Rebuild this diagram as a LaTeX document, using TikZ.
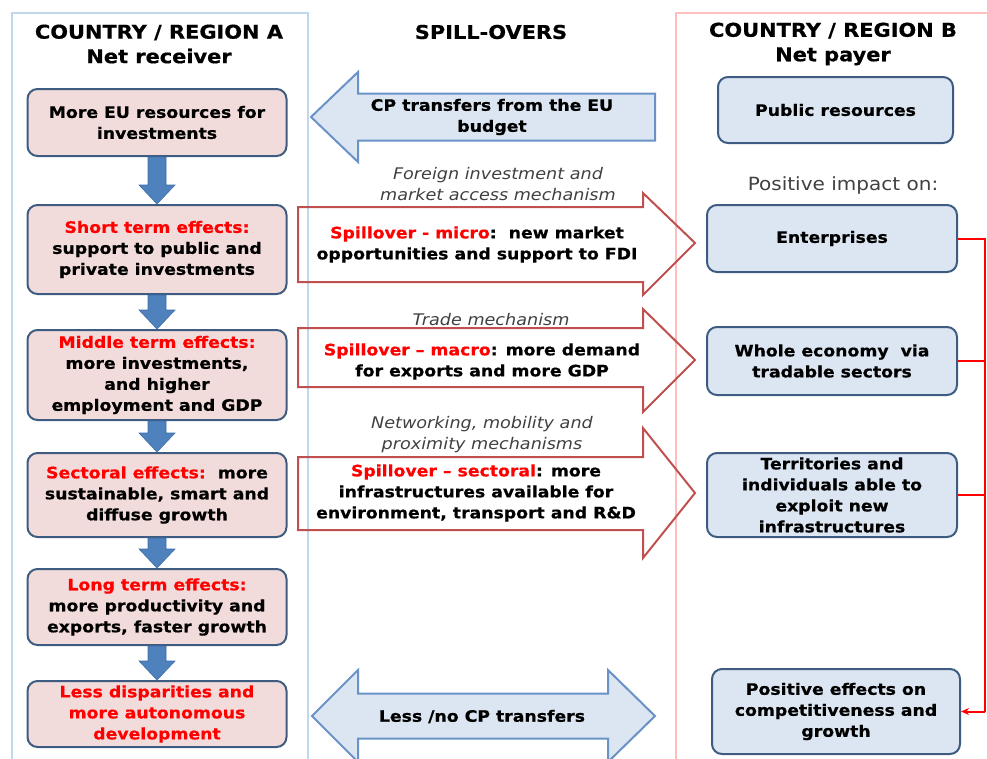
\documentclass[tikz,border=0pt]{standalone}
\usepackage{fontspec}
\setmainfont{DejaVu Sans}[FakeStretch=1.1, BoldFeatures={FakeBold=0.6}]
\usetikzlibrary{calc,arrows.meta}
\definecolor{pinkfill}{HTML}{F2DCDB}
\definecolor{bluefill}{HTML}{DCE6F2}
\definecolor{boxline}{HTML}{3E5C82}
\definecolor{arrowblue}{HTML}{4F81BD}
\definecolor{arrowblueline}{HTML}{3D6DA6}
\definecolor{cpline}{HTML}{6A92C6}
\definecolor{frameblue}{HTML}{BFD8EE}
\definecolor{framepink}{HTML}{FFBFBF}
\definecolor{spillred}{HTML}{C0504D}
\definecolor{txtred}{HTML}{FF0000}
\definecolor{mechgray}{HTML}{404040}
\newcommand{\rt}[1]{\textcolor{txtred}{#1}}
\begin{document}
\begin{tikzpicture}[x=1pt,y=-1pt,
  bodyfont/.style={font=\fontsize{15.7}{21}\selectfont\bfseries},
  headfont/.style={font=\fontsize{19}{24.5}\selectfont\bfseries},
  mechfont/.style={font=\fontsize{16}{21.5}\selectfont\itshape, text=mechgray},
  leftbox/.style={draw=boxline, line width=2pt, fill=pinkfill, rounded corners=10pt,
     minimum width=259pt, align=center, bodyfont, inner sep=0pt},
  rightbox/.style={draw=boxline, line width=2pt, fill=bluefill, rounded corners=10pt,
     align=center, bodyfont, inner sep=0pt},
  plain/.style={align=center, inner sep=0pt},
  spill/.style={draw=spillred, line width=2pt, line join=miter},
  cparrow/.style={draw=cpline, line width=2pt, fill=bluefill, line join=miter},
  downarr/.style={fill=arrowblue, draw=arrowblueline, line width=0.6pt},
  conn/.style={draw=txtred, line width=2pt},
]
\useasboundingbox (0,0) rectangle (987,758);
% frames
\draw[frameblue, line width=1.5pt] (12,770) -- (12,13) -- (308,13) -- (308,770);
\draw[framepink, line width=1.5pt] (676,770) -- (676,13) -- (1000,13);

% headers
\node[plain, headfont] (hA) at (159,44) {COUNTRY / REGION A\\Net receiver};
\node[plain, headfont] (hS) at (491,32) {SPILL-OVERS};
\node[plain, headfont] (hB) at (833,44) {COUNTRY / REGION B\\Net payer};

% left column
\node[leftbox, minimum height=67pt] (L1) at (157,122.5) {More EU resources for\\investments};
\node[leftbox, minimum height=89pt] (L2) at (157,249.5) {\rt{Short term effects:}\\support to public and\\private investments};
\node[leftbox, minimum height=90pt] (L3) at (157,375) {\rt{Middle term effects:}\\more investments,\\and higher\\employment and GDP};
\node[leftbox, minimum height=84pt] (L4) at (157,495) {\rt{Sectoral effects:}\ \ more\\sustainable, smart and\\diffuse growth};
\node[leftbox, minimum height=76pt] (L5) at (157,607) {\rt{Long term effects:}\\more productivity and\\exports, faster growth};
\node[leftbox, minimum height=66pt, text=txtred] (L6) at (157,714) {Less disparities and\\more autonomous\\development};

% down arrows
\foreach \a/\b in {L1/L2,L2/L3,L3/L4,L4/L5,L5/L6}{
  \path[downarr] let \p1=(\a.south), \p2=(\b.north) in
    (\x1-9pt,\y1) -- (\x1+9pt,\y1) -- (\x1+9pt,\y2+19pt) -- (\x1+18pt,\y2+19pt) --
    (\x1,\y2) -- (\x1-18pt,\y2+19pt) -- (\x1-9pt,\y2+19pt) -- cycle;
}

% right column
\node[rightbox, minimum width=235pt, minimum height=66pt] (R0) at (835.5,110) {Public resources};
\node[plain, font=\fontsize{18.2}{21}\selectfont, text=mechgray] (pi) at (843,185) {Positive impact on:};
\node[rightbox, minimum width=250pt, minimum height=67pt] (R1) at (832,238.5) {Enterprises};
\node[rightbox, minimum width=250pt, minimum height=68pt] (R2) at (832,361) {Whole economy\ \ via\\tradable sectors};
\node[rightbox, minimum width=250pt, minimum height=84pt] (R3) at (832,495) {Territories and\\individuals able to\\exploit new\\infrastructures};
\node[rightbox, minimum width=248pt, minimum height=85pt] (R4) at (836,711.5) {Positive effects on\\competitiveness and\\growth};

% red connectors
\coordinate (vtop) at (985,238.5);
\coordinate (vbot) at (985,711.5);
\draw[conn] (R1.east) -- (vtop) -- (vbot);
\draw[conn, -{Stealth[length=8pt,width=7pt]}] (vbot) -- (R4.east);
\draw[conn] (R2.east) -- (R2.east -| vtop);
\draw[conn] (R3.east) -- (R3.east -| vtop);

% CP transfers arrow (left)
\draw[cparrow] (311,117) -- (358,72) -- (358,93.5) -- (655,93.5) -- (655,140.5) -- (358,140.5) -- (358,162) -- cycle;
\node[plain, bodyfont] (cp) at (492,117) {CP transfers from the EU\\budget};

% mechanisms
\node[plain, mechfont] (m1) at (498,184) {Foreign investment and\\market access mechanism};
\node[plain, mechfont] (m2) at (491,319.5) {Trade mechanism};
\node[plain, mechfont] (m3) at (482,434.5) {Networking, mobility and\\proximity mechanisms};

% spill-over arrows
\draw[spill] (298,207) -- (643,207) -- (643,193) -- (695,243) -- (643,295) -- (643,282) -- (298,282) -- cycle;
\node[plain, bodyfont] (s1) at (477,244.5) {\rt{Spillover - micro}:\ \ new market\\opportunities and support to FDI};
\draw[spill] (298,328) -- (643,328) -- (643,309) -- (695,360) -- (643,412) -- (643,387) -- (298,387) -- cycle;
\node[plain, bodyfont] (s2) at (482,361.5) {\rt{Spillover – macro}: more demand\\for exports and more GDP};
\draw[spill] (298,457) -- (643,457) -- (643,428) -- (695,493) -- (643,558) -- (643,530) -- (298,530) -- cycle;
\node[plain, bodyfont] (s3) at (476,493) {\rt{Spillover – sectoral}: more\\infrastructures available for\\environment, transport and R\&D};

% double arrow
\draw[cparrow] (312,716) -- (358,670) -- (358,693.5) -- (608,693.5) -- (608,670) -- (655,716) -- (608,762) -- (608,738.5) -- (358,738.5) -- (358,762) -- cycle;
\node[plain, bodyfont] (nocp) at (482,716.5) {Less /no CP transfers};
\end{tikzpicture}
\end{document}
